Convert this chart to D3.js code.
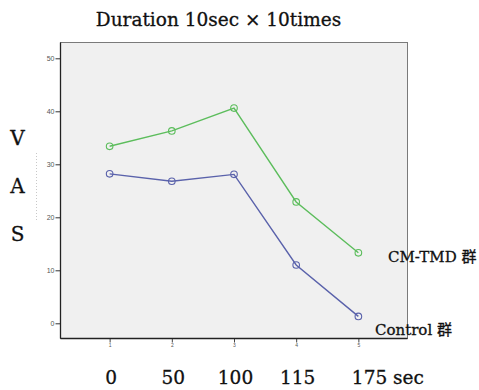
<!DOCTYPE html>
<html>
<head>
<meta charset="utf-8">
<script src="https://cdn.jsdelivr.net/npm/d3@7"></script>
<style>
  body { margin: 0; background: #fff; }
  svg text.serif { font-family: "DejaVu Serif", "Noto Sans CJK JP", serif; fill: #111; stroke: #111; stroke-width: 0.3; }
  svg text.tick { font-family: Arial, "Liberation Sans", sans-serif; fill: #555; }
</style>
</head>
<body>
<div id="chart"></div>
<script>
const steps = [1, 2, 3, 4, 5];
const timeLabels = ['0', '50', '100', '115', '175 sec'];
const yTicks = [0, 10, 20, 30, 40, 50];
const cmTmd = [33.4, 36.3, 40.6, 22.9, 13.3];
const control = [28.2, 26.8, 28.1, 11.0, 1.3];
const seriesNames = ['CM-TMD 群', 'Control 群'];

const width = 479;
const height = 390;
const frame = { left: 60.5, right: 407.5, top: 42.5, bottom: 338.5 };

const svg = d3.select('#chart')
  .append('svg')
  .attr('width', width)
  .attr('height', height);

const x = d3.scaleLinear().domain([0.21, 5.79]).range([frame.left, frame.right]);
const y = d3.scaleLinear().domain([0, 50]).range([323.3, 58.3]);

// plot area
svg.append('rect')
  .attr('x', frame.left)
  .attr('y', frame.top)
  .attr('width', frame.right - frame.left)
  .attr('height', frame.bottom - frame.top)
  .attr('fill', '#f0f0f0')
  .attr('stroke', '#7a7a7a')
  .attr('stroke-width', 1);

// faint dotted guide left of the axis (scan artefact in the original)
svg.append('line')
  .attr('x1', 36.5).attr('x2', 36.5)
  .attr('y1', 153).attr('y2', 222)
  .attr('stroke', '#c8c8c8')
  .attr('stroke-dasharray', '1,2');

// y axis
const yAxis = svg.append('g')
  .attr('transform', `translate(${frame.left},0)`)
  .call(d3.axisLeft(y).tickValues(yTicks).tickSize(5).tickPadding(1));
yAxis.select('.domain').remove();
yAxis.append('line')
  .attr('y1', frame.top).attr('y2', frame.bottom)
  .attr('stroke', '#222').attr('stroke-width', 1.3);
yAxis.selectAll('.tick line').attr('stroke', '#333');
yAxis.selectAll('.tick text')
  .attr('class', 'tick')
  .attr('font-size', 7)
  .attr('fill', '#555');

// x axis
const xAxis = svg.append('g')
  .attr('transform', `translate(0,${frame.bottom})`)
  .call(d3.axisBottom(x).tickValues(steps).tickSize(4).tickPadding(1).tickFormat(d3.format('d')));
xAxis.select('.domain').remove();
xAxis.append('line')
  .attr('x1', frame.left).attr('x2', frame.right)
  .attr('stroke', '#222').attr('stroke-width', 1.3);
xAxis.selectAll('.tick line').attr('stroke', '#444');
xAxis.selectAll('.tick text')
  .attr('class', 'tick')
  .attr('font-size', 5)
  .attr('fill', '#777');

// series
const line = d3.line().x((d, i) => x(steps[i])).y(d => y(d));
const series = [
  { name: seriesNames[0], values: cmTmd, color: '#5cbd5c' },
  { name: seriesNames[1], values: control, color: '#5a62ab' }
];

series.forEach(s => {
  svg.append('path')
    .datum(s.values)
    .attr('d', line)
    .attr('fill', 'none')
    .attr('stroke', s.color)
    .attr('stroke-width', 1.4);
  svg.selectAll(null)
    .data(s.values)
    .enter()
    .append('circle')
    .attr('cx', (d, i) => x(steps[i]))
    .attr('cy', d => y(d))
    .attr('r', 3.3)
    .attr('fill', 'none')
    .attr('stroke', s.color)
    .attr('stroke-width', 1.1);
});

// series labels
svg.append('text').attr('class', 'serif')
  .attr('x', 388).attr('y', 262)
  .attr('font-size', 15)
  .text(seriesNames[0]);
svg.append('text').attr('class', 'serif')
  .attr('x', 375).attr('y', 335)
  .attr('font-size', 15)
  .text(seriesNames[1]);

// title
svg.append('text').attr('class', 'serif')
  .attr('x', 218.5).attr('y', 26)
  .attr('text-anchor', 'middle')
  .attr('font-size', 18.5)
  .text('Duration 10sec × 10times');

// VAS letters
svg.selectAll(null)
  .data(['V', 'A', 'S'])
  .enter()
  .append('text')
  .attr('class', 'serif')
  .attr('x', 17.5)
  .attr('y', (d, i) => 145 + i * 48)
  .attr('text-anchor', 'middle')
  .attr('font-size', 20)
  .text(d => d);

// time labels under ticks
svg.selectAll(null)
  .data(timeLabels)
  .enter()
  .append('text')
  .attr('class', 'serif')
  .attr('x', (d, i) => i === timeLabels.length - 1 ? x(steps[i]) - 6.5 : x(steps[i]) + 1.5)
  .attr('y', 384)
  .attr('text-anchor', (d, i) => i === timeLabels.length - 1 ? 'start' : 'middle')
  .attr('font-size', 18.5)
  .text(d => d);
</script>
</body>
</html>
